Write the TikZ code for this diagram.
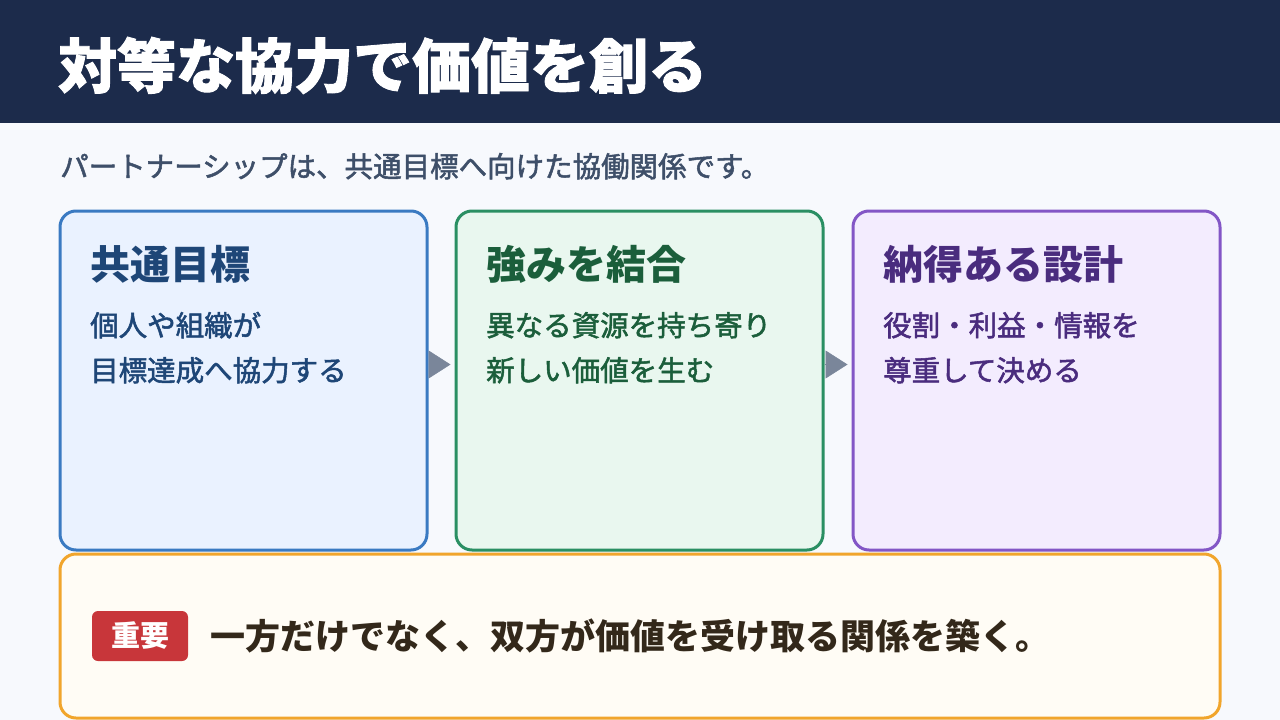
\documentclass[tikz,border=0pt]{standalone}
\usepackage{fontspec}
\newfontfamily\jp{Noto Sans CJK JP}
\newfontfamily\jpmid{Noto Sans CJK JP}[FakeBold=1.8]
\newfontfamily\jpheavy{Noto Sans CJK JP}[BoldFeatures={FakeBold=1.5}]
\definecolor{pageBg}{HTML}{F7F9FD}
\definecolor{headerNavy}{HTML}{1C2B4B}
\definecolor{subSlate}{HTML}{3E4F69}
\definecolor{goalBlue}{HTML}{3A7AC2}
\definecolor{goalFill}{HTML}{EAF2FF}
\definecolor{goalText}{HTML}{1E4677}
\definecolor{mixGreen}{HTML}{2A8F63}
\definecolor{mixFill}{HTML}{E9F7EF}
\definecolor{mixText}{HTML}{1B5E3B}
\definecolor{planPurple}{HTML}{8356C6}
\definecolor{planFill}{HTML}{F3ECFE}
\definecolor{planText}{HTML}{4A2C7E}
\definecolor{keyOrange}{HTML}{F1A52C}
\definecolor{keyFill}{HTML}{FFFCF5}
\definecolor{keyText}{HTML}{33281A}
\definecolor{badgeRed}{HTML}{C8363A}
\definecolor{flowGray}{HTML}{7A869A}
\usetikzlibrary{arrows.meta, positioning}

\begin{document}
\begin{tikzpicture}[
    x=1pt, y=-1pt,
    card/.style={rectangle, rounded corners=16pt, line width=3pt,
                 minimum width=367pt, minimum height=339pt},
    head/.style={anchor=base west, inner sep=0pt, font=\jp\bfseries\fontsize{40}{48}\selectfont},
    body/.style={anchor=base west, inner sep=0pt, align=left, font=\jpmid\fontsize{28.5}{45}\selectfont},
    flow/.style={-{Triangle[length=22pt, width=28pt]}, line width=0.5pt, flowGray, shorten >=4pt},
    badge/.style={rectangle, rounded corners=6pt, fill=badgeRed, text=white,
                  minimum width=96pt, minimum height=50pt, inner sep=0pt,
                  font=\jp\bfseries\fontsize{29}{32}\selectfont}
  ]
    \useasboundingbox (0,0) rectangle (1280,720);
    \fill[pageBg] (0,0) rectangle (1280,720);
    \fill[headerNavy] (0,0) rectangle (1280,123);
    \node[anchor=base west, inner sep=0pt, text=white,
          font=\jpheavy\bfseries\fontsize{59}{64}\selectfont] (title) at (58,88) {対等な協力で価値を創る};
    \node[anchor=base west, inner sep=0pt, text=subSlate,
          font=\jpmid\fontsize{28.5}{34}\selectfont] (lead) at (60,177) {パートナーシップは、共通目標へ向けた協働関係です。};

    % three cards
    \node[card, draw=goalBlue, fill=goalFill] (goal) at (243.5,380.5) {};
    \node[card, draw=mixGreen, fill=mixFill] (strength) at (639.5,380.5) {};
    \node[card, draw=planPurple, fill=planFill] (design) at (1036.5,380.5) {};

    \node[head, text=goalText] (goalHead) at (90,279) {共通目標};
    \node[body, text=goalText] (goalBody) at (90,381) {個人や組織が\\目標達成へ協力する};
    \node[head, text=mixText] (mixHead) at (486,279) {強みを結合};
    \node[body, text=mixText] (mixBody) at (486,381) {異なる資源を持ち寄り\\新しい価値を生む};
    \node[head, text=planText] (planHead) at (883,279) {納得ある設計};
    \node[body, text=planText] (planBody) at (883,381) {役割・利益・情報を\\尊重して決める};

    \draw[flow] ([yshift=16pt]goal.east) -- ([yshift=16pt]strength.west);
    \draw[flow] ([yshift=16pt]strength.east) -- ([yshift=16pt]design.west);

    % key message
    \node[rectangle, rounded corners=16pt, line width=3pt, draw=keyOrange, fill=keyFill,
          minimum width=1160pt, minimum height=164pt] (key) at (640,636) {};
    \node[badge] (tag) at (140,636) {重要};
    \node[right=22pt of tag, inner sep=0pt, text=keyText,
          font=\jp\bfseries\fontsize{35}{40}\selectfont] (keyMsg) {一方だけでなく、双方が価値を受け取る関係を築く。};
  \end{tikzpicture}
\end{document}
